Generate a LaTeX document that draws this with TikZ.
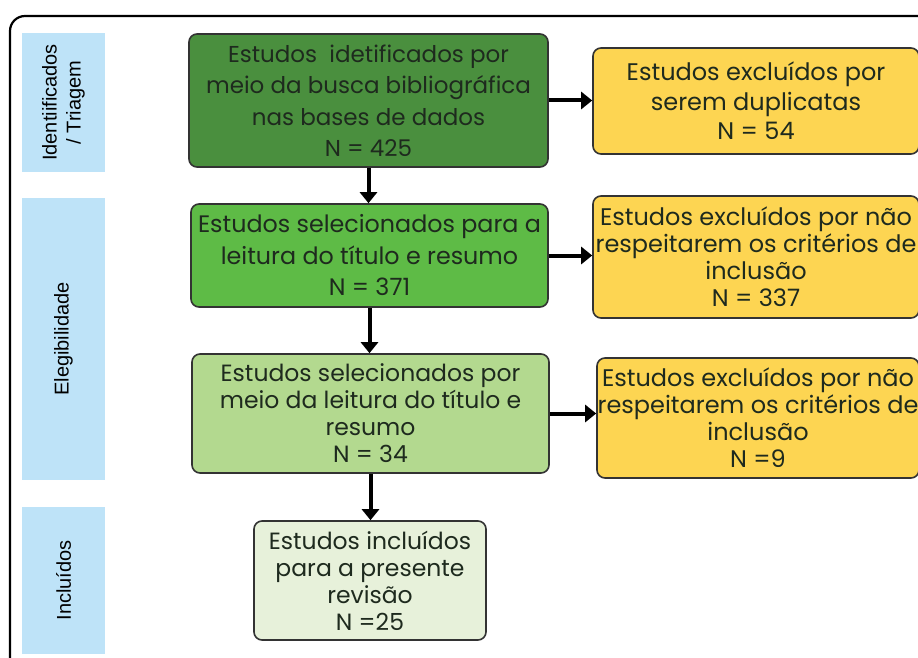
\documentclass[tikz,border=0pt]{standalone}
\usepackage{fontspec}
\setmainfont{Poppins}
\newfontfamily\labelfont{Liberation Sans}
\usetikzlibrary{arrows.meta}
\definecolor{gA}{HTML}{4A8F3E}
\definecolor{gB}{HTML}{5EBB46}
\definecolor{gC}{HTML}{B3D98F}
\definecolor{gD}{HTML}{E7F1DA}
\definecolor{yel}{HTML}{FDD552}
\definecolor{lblue}{HTML}{BEE3F8}
\definecolor{txt}{HTML}{1E2A1E}
\tikzset{
  x=1pt,y=-1pt,
  box/.style={draw=black!80, line width=1.6pt, rounded corners=8pt, align=center,
    inner sep=0pt, text=txt, font=\fontsize{23.5}{27}\selectfont},
  lbl/.style={fill=lblue, inner sep=0pt, rotate=90, font=\labelfont\fontsize{20}{24}\selectfont, align=center},
  arr/.style={line width=4pt, -{Triangle[length=11pt,width=17pt]}},
}
\begin{document}
\begin{tikzpicture}
\useasboundingbox (0,0) rectangle (918,658);
\fill[white] (0,0) rectangle (918,658);
\draw[line width=2.2pt, rounded corners=15pt] (10,690) -- (10,16) -- (940,16);
% side labels
\node[lbl, minimum width=139pt, minimum height=83pt] (l1) at (63.5,102.5) {Identiificados\\/ Triagem};
\node[lbl, minimum width=282pt, minimum height=83pt] (l2) at (63.5,339) {Elegibilidade};
\node[lbl, minimum width=147pt, minimum height=83pt] (l3) at (63.5,580.5) {Incluídos};
% boxes
\node[box, fill=gA, minimum width=359pt, minimum height=133pt, font=\fontsize{23}{31.5}\selectfont] (b1) at (368.5,100.5)
  {Estudos\ \ idetificados por\\meio da busca bibliográfica\\nas bases de dados\\N = 425};
\node[box, fill=yel, minimum width=326pt, minimum height=106pt, font=\fontsize{24}{29.5}\selectfont] (y1) at (756,101)
  {Estudos excluídos por\\serem duplicatas\\N = 54};
\node[box, fill=gB, minimum width=357pt, minimum height=103pt, font=\fontsize{23.8}{31.5}\selectfont] (b2) at (369.5,255.5)
  {Estudos selecionados para a\\leitura do título e resumo\\N = 371};
\node[box, fill=yel, minimum width=326pt, minimum height=122pt, font=\fontsize{24}{27}\selectfont] (y2) at (756,257)
  {Estudos excluídos por não\\respeitarem os critérios de\\inclusão\\N = 337};
\node[box, fill=gC, minimum width=357pt, minimum height=119pt] (b3) at (370.5,413.5)
  {Estudos selecionados por\\meio da leitura do título e\\resumo\\N = 34};
\node[box, fill=yel, minimum width=322pt, minimum height=120pt, font=\fontsize{24}{27}\selectfont] (y3) at (758,418)
  {Estudos excluídos por não\\respeitarem os critérios de\\inclusão\\N =9};
\node[box, fill=gD, minimum width=232pt, minimum height=119pt] (b4) at (370,580.5)
  {Estudos incluídos\\para a presente\\revisão\\N =25};
% arrows
\draw[arr] (b1.south) -- (b1.south |- b2.north);
\draw[arr] (b2.south) -- (b2.south |- b3.north);
\draw[arr] (b3.south) -- (b3.south |- b4.north);
\draw[arr] (b1.east) -- (b1.east -| y1.west);
\draw[arr] (b2.east) -- (b2.east -| y2.west);
\draw[arr] (b3.east) -- (b3.east -| y3.west);
\end{tikzpicture}
\end{document}
